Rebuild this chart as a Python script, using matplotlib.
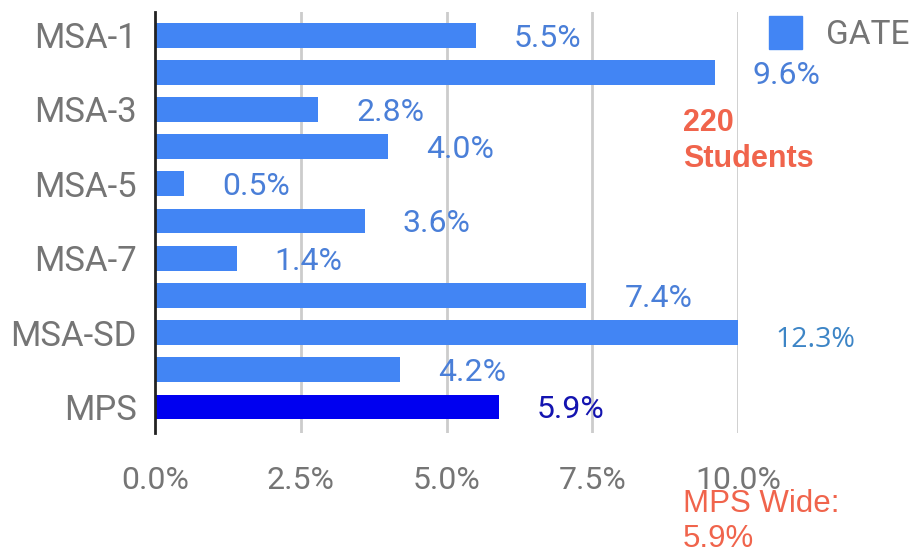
import matplotlib
matplotlib.use("Agg")
import matplotlib.pyplot as plt
from matplotlib.patches import Patch

categories = ["MSA-1", "MSA-2", "MSA-3", "MSA-4", "MSA-5", "MSA-6",
              "MSA-7", "MSA-8", "MSA-SD", "MSA-10", "MPS"]
tick_labels = ["MSA-1", "", "MSA-3", "", "MSA-5", "", "MSA-7", "", "MSA-SD", "", "MPS"]
gate_pct = [5.5, 9.6, 2.8, 4.0, 0.5, 3.6, 1.4, 7.4, 12.3, 4.2, 5.9]
x_ticks = [0.0, 2.5, 5.0, 7.5, 10.0]

BLUE = "#4285f4"
MPS_BLUE = "#0000f0"
LABEL_BLUE = "#4a7fd8"
GREY = "#757575"
ORANGE = "#f0644c"

plt.rcParams['font.family'] = ['Roboto', 'DejaVu Sans']

fig = plt.figure(figsize=(9.17, 5.56), dpi=100)
ax = fig.add_axes([155/917, 1 - 433/556, (738 - 155)/917, (433 - 12)/556])

xmax = x_ticks[-1]
colors = [MPS_BLUE if c == "MPS" else BLUE for c in categories]
shown = [min(v, xmax) for v in gate_pct]
ypos = list(range(len(categories)))
bars = ax.barh(ypos, shown, height=0.67, color=colors, zorder=3)

ax.set_xlim(0, xmax)
ax.set_ylim(10.7, -0.62)
ax.set_xticks(x_ticks)
ax.set_xticklabels([f"{t:.1f}%" for t in x_ticks])
ax.set_yticks(ypos)
ax.set_yticklabels(tick_labels)
ax.tick_params(axis='x', length=0, pad=24, labelsize=23, labelcolor=GREY)
ax.tick_params(axis='y', length=0, pad=13, labelsize=25, labelcolor=GREY)

for t in x_ticks[1:]:
    ax.axvline(t, color="#cccccc", lw=2, zorder=1)
for s in ["top", "right", "bottom"]:
    ax.spines[s].set_visible(False)
ax.spines["left"].set_color("#222222")
ax.spines["left"].set_linewidth(2)
ax.spines["left"].set_zorder(4)

gap = 0.65
for y, v, c in zip(ypos, gate_pct, categories):
    if v > xmax:
        ax.text(min(v, xmax) + gap, y + 0.2, f"{v:.1f}%", va="center", ha="left",
                fontsize=20.5, color="#3d85c6", family=["Open Sans", "DejaVu Sans"],
                clip_on=False)
    else:
        col = "#1414b0" if c == "MPS" else LABEL_BLUE
        ax.text(v + gap, y + 0.08, f"{v:.1f}%", va="center", ha="left",
                fontsize=23, color=col, clip_on=False)

ax.legend(handles=[Patch(facecolor=BLUE, edgecolor=BLUE)], labels=["GATE"],
          loc="upper left", bbox_to_anchor=(769/917, 1 - 16/556),
          bbox_transform=fig.transFigure, frameon=False, fontsize=24,
          labelcolor=GREY, handlelength=1.0, handleheight=1.15,
          borderpad=0, borderaxespad=0, handletextpad=0.7)

fig.text(683/917, 1 - 108/556, "220\nStudents", color=ORANGE, fontsize=22,
         fontweight="bold", family=["Liberation Sans", "DejaVu Sans"],
         va="top", ha="left", linespacing=1.25)
fig.text(683/917, 1 - 489/556, "MPS Wide:\n5.9%", color=ORANGE, fontsize=22.5,
         family=["Liberation Sans", "DejaVu Sans"], va="top", ha="left",
         linespacing=1.22)

fig.savefig("out.png", dpi=100)
